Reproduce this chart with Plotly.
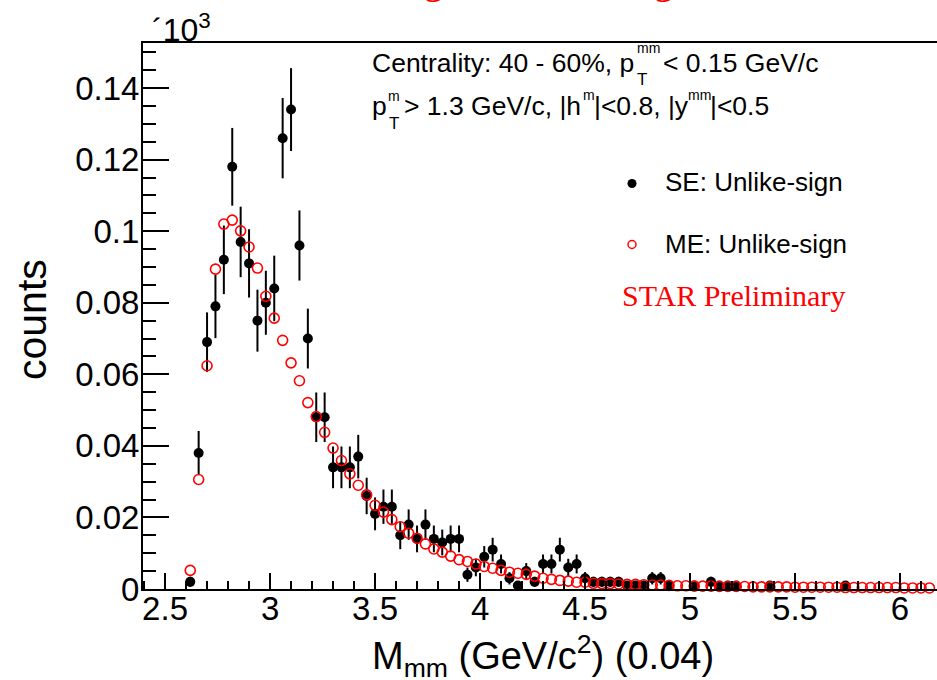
import numpy as np
import plotly.graph_objects as go

# ---------------- data ----------------
bin_low = 2.60          # GeV/c^2, lower edge of first bin
bin_width = 0.04        # GeV/c^2

# same-event unlike-sign counts per bin
se_counts = [2, 38, 69, 79, 92, 118, 97, 91, 75, 80,
             84, 126, 134, 96, 70, 48, 48, 34, 34, 34,
             37, 26, 21, 23, 23, 15, 18, 14, 18, 14,
             13, 14, 14, 4, 6, 9, 11, 7, 3, 1,
             5, 2, 7, 7, 11, 6, 7, 3, 2, 2,
             2, 2, 1, 1, 1, 3, 3, 1, 0, 0,
             1, 0, 2, 1, 1, 1, 0, 0, 0, 1,
             0, 0, 0, 0, 0, 0, 0, 0, 1, 0,
             0, 0, 0, 0, 0, 0, 0, 0, 0, 0]

# mixed-event unlike-sign (normalised) per bin
me_counts = [5.2, 30.6, 62.4, 89.4, 102.0, 103.1, 100.1, 95.6, 89.7, 81.8,
             75.7, 69.5, 63.2, 58.2, 52.1, 48.2, 43.8, 39.4, 35.9, 32.2,
             29.0, 26.3, 23.4, 21.5, 19.4, 17.4, 15.6, 14.2, 12.6, 11.2,
             10.3, 9.2, 8.2, 7.7, 7.0, 6.3, 5.8, 5.2, 4.7, 4.4,
             4.1, 3.6, 3.0, 2.7, 2.4, 2.2, 1.9, 1.9, 1.6, 1.5,
             1.5, 1.4, 1.3, 1.3, 1.2, 1.1, 1.1, 1.0, 0.9, 0.9,
             0.8, 0.8, 0.8, 0.7, 0.7, 0.7, 0.7, 0.6, 0.6, 0.6,
             0.6, 0.6, 0.5, 0.5, 0.5, 0.5, 0.5, 0.5, 0.4, 0.4,
             0.4, 0.4, 0.4, 0.4, 0.4, 0.3, 0.3, 0.3, 0.3, 0.3]

scale = 1e3  # axis shown in units of 10^3

x_ticks = [2.5, 3, 3.5, 4, 4.5, 5, 5.5, 6]
y_ticks = [0, 0.02, 0.04, 0.06, 0.08, 0.1, 0.12, 0.14]

# ---------------- derived ----------------
centers = np.round(bin_low + bin_width * (np.arange(len(se_counts)) + 0.5), 3)
se = np.array(se_counts, dtype=float)
mask = se > 0
se_x = centers[mask]
se_y = se[mask] / scale
se_err = np.sqrt(se[mask]) / scale
me_y = np.array(me_counts) / scale

# ---------------- figure ----------------
W, H = 937, 680
ML, MR, MT, MB = 143, 0, 43, 91
PW, PH = W - ML - MR, H - MT - MB

def px(x):
    return (x - ML) / PW

def py(y):
    return (H - MB - y) / PH

FONT = "Liberation Sans, Arial, Helvetica, sans-serif"
SERIF = "Liberation Serif, Times New Roman, serif"

fig = go.Figure()
fig.add_trace(go.Scatter(
    x=se_x, y=se_y, mode="markers",
    marker=dict(symbol="circle", size=10, color="black"),
    error_y=dict(type="data", array=se_err, visible=True,
                 color="black", thickness=2, width=0),
    cliponaxis=False, showlegend=False, name="SE: Unlike-sign"))
fig.add_trace(go.Scatter(
    x=centers, y=me_y, mode="markers",
    marker=dict(symbol="circle-open", size=10, color="red",
                line=dict(color="red", width=1.6)),
    cliponaxis=False, showlegend=False, name="ME: Unlike-sign"))

axis_common = dict(showgrid=False, zeroline=False, showline=True,
                   linecolor="black", linewidth=2, ticks="inside",
                   tickcolor="black", tickwidth=2,
                   tickfont=dict(family=FONT, size=33, color="black"))

fig.update_xaxes(range=[2.395, 6.176], tickvals=x_ticks,
                 ticktext=[("%g" % v) for v in x_ticks], ticklen=16,
                 mirror=True, ticklabelstandoff=-11,
                 minor=dict(ticks="inside", ticklen=8, dtick=0.1, tick0=2.5,
                            tickcolor="black", tickwidth=2, showgrid=False),
                 **axis_common)
fig.update_yaxes(range=[0, 0.1526], tickvals=y_ticks,
                 ticktext=[("%g" % v) for v in y_ticks], ticklen=26,
                 mirror=False, ticklabelstandoff=-5,
                 minor=dict(ticks="inside", ticklen=13, dtick=0.005, tick0=0,
                            tickcolor="black", tickwidth=2, showgrid=False),
                 **axis_common)

ann = []

def text(x, y, s, size, color="black", family=FONT, anchor="left", angle=0):
    ann.append(dict(x=px(x), y=py(y), xref="paper", yref="paper", text=s,
                    showarrow=False, xanchor=anchor, yanchor="middle",
                    textangle=angle,
                    font=dict(family=family, size=size, color=color)))

# exponent label
text(150, 28, "´10<sup>3</sup>", 32)

# title fragments (cut at top edge)
text(422, -18.5, "g", 38, color="red", family=SERIF)
text(652, -18.5, "g", 38, color="red", family=SERIF)

# info line 1
text(370, 63, "Centrality: 40 - 60%, p", 26.5)
text(635, 48, "mm", 14)
text(635, 79, "T", 17)
text(661, 63, "&lt; 0.15 GeV/c", 26.5)

# info line 2
text(370, 106, "p", 26.5)
text(386, 96, "m", 14)
text(387, 123, "T", 17)
text(402, 106, "&gt; 1.3 GeV/c, |h", 26.5)
text(581, 95, "m", 14)
text(592, 106, "|&lt;0.8, |y", 26.5)
text(686, 95, "mm", 14)
text(708, 106, "|&lt;0.5", 26.5)

# legend entries
text(663, 182, "SE: Unlike-sign", 26)
text(663, 244, "ME: Unlike-sign", 26)
text(620, 295, "STAR Preliminary", 30, color="red", family=SERIF)

# axis titles
text(32, 320, "counts", 41, anchor="center", angle=-90)
text(370, 656, "M<sub>mm</sub> (GeV/c<sup>2</sup>) (0.04)", 38)

shapes = []
def circle(cx, cy, d, fill, line, lw):
    shapes.append(dict(type="circle", xref="paper", yref="paper",
                       x0=px(cx - d / 2), x1=px(cx + d / 2),
                       y0=py(cy + d / 2), y1=py(cy - d / 2),
                       fillcolor=fill, line=dict(color=line, width=lw)))

circle(632, 183.5, 9, "black", "black", 0)
circle(632, 244.5, 8, "rgba(0,0,0,0)", "red", 1.5)

fig.update_layout(width=W, height=H,
                  margin=dict(l=ML, r=MR, t=MT, b=MB, pad=0),
                  paper_bgcolor="white", plot_bgcolor="white",
                  annotations=ann, shapes=shapes, showlegend=False)

fig.write_html("out.html")
